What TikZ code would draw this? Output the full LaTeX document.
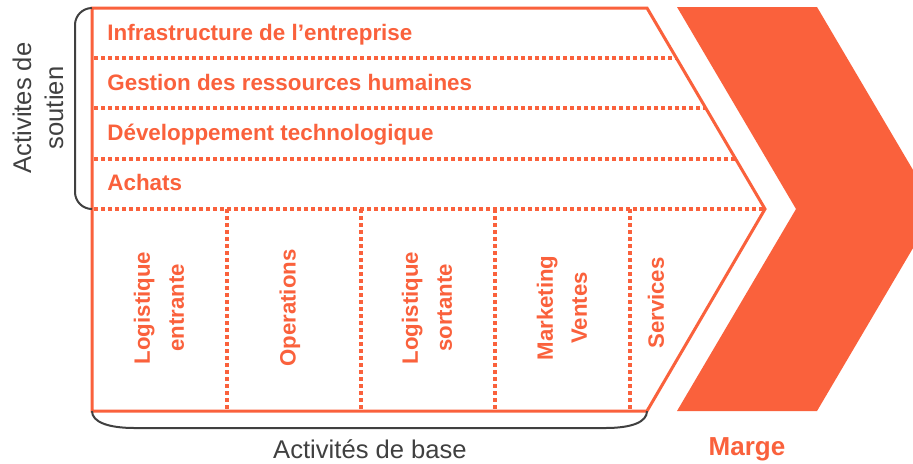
\documentclass[tikz,border=0pt]{standalone}
\usepackage{fontspec}
\setmainfont{Liberation Sans}
\definecolor{vcorange}{HTML}{FA613C}
\definecolor{vcgray}{HTML}{404040}
\tikzset{
  outline/.style={draw=vcorange, line width=1.5pt},
  dotline/.style={draw=vcorange, line width=1.6pt, dash pattern=on 2pt off 1.5pt},
  bracket/.style={draw=vcgray, line width=1pt},
  rowtext/.style={text=vcorange, font=\bfseries\fontsize{11.2}{14}\selectfont, anchor=base west, inner sep=0pt},
  coltext/.style={text=vcorange, font=\bfseries\fontsize{11.1}{17}\selectfont, align=center, rotate=90, inner sep=0pt},
  graytext/.style={text=vcgray, font=\fontsize{12.8}{16}\selectfont, align=center, inner sep=0pt},
}
\begin{document}
\begin{tikzpicture}[x=0.5pt,y=-0.5pt]
\clip (0,0) rectangle (913,463);
\fill[white] (0,0) rectangle (913,463);
% named corners
\coordinate (tl) at (92,8);
\coordinate (tr) at (647,8);
\coordinate (tip) at (765,209);
\coordinate (br) at (647,411);
\coordinate (bl) at (92,411);
% Marge chevron
\fill[vcorange] (677,7) -- (817,7) -- (936,209) -- (817,411) -- (677,411) -- (796,209) -- cycle;
% dotted separators
\draw[dotline] (94,58) -- (676.4,58);
\draw[dotline] (94,108) -- (705.7,108);
\draw[dotline] (94,159) -- (735.6,159);
\draw[dotline] (94,209) -- (tip);
\foreach \x in {227,361,495,630} \draw[dotline] (\x,209) -- (\x,411);
% main outline
\draw[outline, line join=miter] (tl) -- (tr) -- (tip) -- (br) -- (bl) -- cycle;
% brackets
\draw[bracket, rounded corners=8.5pt] (tl) -- (75,8) -- (75,209) -- (92,209);
\draw[bracket] (bl) .. controls (92,422) and (108,428) .. (135,428) -- (605,428) .. controls (632,428) and (647,422) .. (br);
% row texts
\node[rowtext] (infra) at (107,40) {Infrastructure de l’entreprise};
\node[rowtext] (grh) at (107,90) {Gestion des ressources humaines};
\node[rowtext] (dev) at (107,140.5) {Développement technologique};
\node[rowtext] (achats) at (107,190.5) {Achats};
% column texts
\node[coltext] (le) at (159,308) {Logistique\\entrante};
\node[coltext] (op) at (290,308) {Operations};
\node[coltext] (ls) at (427,308) {Logistique\\sortante};
\node[coltext] (mv) at (562,308) {Marketing\\Ventes};
\node[coltext] (serv) at (656,303) {Services};
% gray labels
\node[graytext, rotate=90] (soutien) at (38,108) {Activites de\\soutien};
\node[graytext] (base) at (370,449) {Activités de base};
\node[text=vcorange, font=\bfseries\fontsize{13}{16}\selectfont, inner sep=0pt] (marge) at (747,449) {Marge};
\end{tikzpicture}
\end{document}
